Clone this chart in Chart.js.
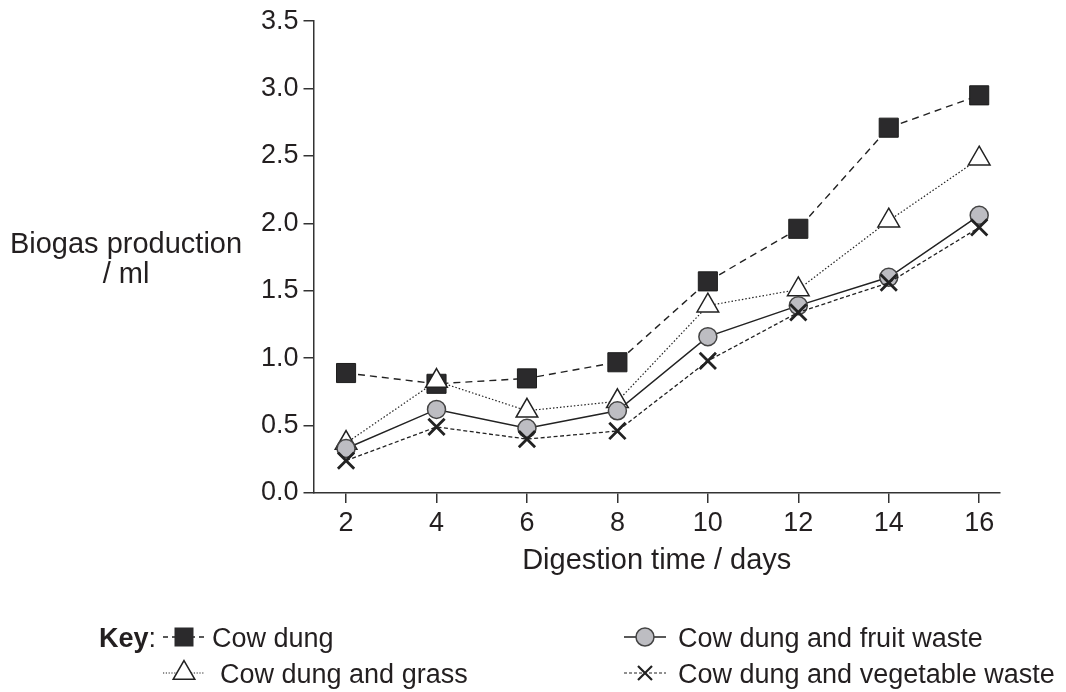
<!DOCTYPE html>
<html>
<head>
<meta charset="utf-8">
<script src="https://cdn.jsdelivr.net/npm/chart.js@4/dist/chart.umd.min.js"></script>
<style>
  html, body { margin: 0; padding: 0; background: #ffffff; }
  #wrap { width: 1066px; height: 692px; position: relative; }
</style>
</head>
<body>
<div id="wrap"><canvas id="c" width="1066" height="692"></canvas></div>
<script>
// ---- data ----
const days = [2, 4, 6, 8, 10, 12, 14, 16];
const cowDung = [0.89, 0.81, 0.85, 0.97, 1.57, 1.96, 2.71, 2.95];
const cowDungGrass = [0.37, 0.83, 0.61, 0.68, 1.39, 1.51, 2.02, 2.48];
const cowDungFruit = [0.33, 0.62, 0.48, 0.61, 1.16, 1.39, 1.60, 2.06];
const cowDungVeg = [0.24, 0.49, 0.40, 0.46, 0.98, 1.34, 1.56, 1.97];
const yTicks = [0, 0.5, 1.0, 1.5, 2.0, 2.5, 3.0, 3.5];
const seriesNames = ['Cow dung', 'Cow dung and grass', 'Cow dung and fruit waste', 'Cow dung and vegetable waste'];
const xTitle = 'Digestion time / days';
const yTitleLines = ['Biogas production', '/ ml'];

const FONT = '"Liberation Sans", Arial, Helvetica, sans-serif';
const INK = '#231f20';

function pts(vals) { return days.map((d, i) => ({ x: d, y: vals[i] })); }

const styles = [
  { pointStyle: 'rect', pointRadius: 13.5, pointBackgroundColor: '#2b2a2c', pointBorderColor: '#1e1e1e', pointBorderWidth: 1, borderDash: [7, 5], borderWidth: 1.4, order: 4 },
  { pointStyle: 'triangle', pointRadius: 12.5, pointBackgroundColor: '#ffffff', pointBorderColor: '#222', pointBorderWidth: 1.5, borderDash: [1.5, 2], borderWidth: 1.2, order: 3 },
  { pointStyle: 'circle', pointRadius: 9, pointBackgroundColor: '#bdbdc2', pointBorderColor: '#444', pointBorderWidth: 1.5, borderDash: [], borderWidth: 1.5, order: 2 },
  { pointStyle: 'crossRot', pointRadius: 11.5, pointBackgroundColor: '#222', pointBorderColor: '#222', pointBorderWidth: 2.8, borderDash: [4, 2.5], borderWidth: 1.3, order: 1 }
];
const seriesData = [cowDung, cowDungGrass, cowDungFruit, cowDungVeg];

const datasets = seriesData.map((vals, i) => Object.assign({
  label: seriesNames[i],
  data: pts(vals),
  borderColor: '#222',
  backgroundColor: '#222',
  fill: false,
  tension: 0,
  pointHoverRadius: styles[i].pointRadius
}, styles[i]));

function drawMarker(ctx, kind, x, y) {
  ctx.save();
  ctx.setLineDash([]);
  if (kind === 0) {
    ctx.fillStyle = '#2b2a2c';
    ctx.fillRect(x - 9.5, y - 9.5, 19, 19);
  } else if (kind === 1) {
    const r = 12.5;
    ctx.beginPath();
    ctx.moveTo(x, y - r);
    ctx.lineTo(x + r * Math.sin(2 * Math.PI / 3), y + r / 2);
    ctx.lineTo(x - r * Math.sin(2 * Math.PI / 3), y + r / 2);
    ctx.closePath();
    ctx.fillStyle = '#fff'; ctx.fill();
    ctx.strokeStyle = '#222'; ctx.lineWidth = 1.5; ctx.stroke();
  } else if (kind === 2) {
    ctx.beginPath();
    ctx.arc(x, y, 9, 0, Math.PI * 2);
    ctx.fillStyle = '#bdbdc2'; ctx.fill();
    ctx.strokeStyle = '#444'; ctx.lineWidth = 1.5; ctx.stroke();
  } else {
    const o = 7;
    ctx.beginPath();
    ctx.moveTo(x - o, y - o); ctx.lineTo(x + o, y + o);
    ctx.moveTo(x + o, y - o); ctx.lineTo(x - o, y + o);
    ctx.strokeStyle = '#222'; ctx.lineWidth = 2.2; ctx.stroke();
  }
  ctx.restore();
}

const extras = {
  id: 'extras',
  afterDraw(chart) {
    const ctx = chart.ctx;
    ctx.save();
    // y-axis title, horizontal, left of the axis
    ctx.fillStyle = INK;
    ctx.font = '29px ' + FONT;
    ctx.textAlign = 'center';
    ctx.textBaseline = 'alphabetic';
    ctx.fillText(yTitleLines[0], 126, 253);
    ctx.fillText(yTitleLines[1], 126, 283);

    // key
    const rows = [647, 683];
    ctx.font = 'bold 27px ' + FONT;
    ctx.textAlign = 'left';
    const kw = ctx.measureText('Key').width;
    ctx.font = '27px ' + FONT;
    const cw = ctx.measureText(':').width;
    const keyRight = 156;
    ctx.font = 'bold 27px ' + FONT;
    ctx.fillText('Key', keyRight - cw - kw, rows[0]);
    ctx.font = '27px ' + FONT;
    ctx.fillText(':', keyRight - cw, rows[0]);

    const entries = [
      { kind: 0, cx: 184, row: 0, tx: 212, dash: [5, 4], lw: 1.3 },
      { kind: 1, cx: 184, row: 1, tx: 220, dash: [1.2, 1.6], lw: 1.1 },
      { kind: 2, cx: 645, row: 0, tx: 678, dash: [], lw: 1.4 },
      { kind: 3, cx: 645, row: 1, tx: 678, dash: [3, 2], lw: 1.2 }
    ];
    entries.forEach(e => {
      const y = rows[e.row] - 10;
      ctx.save();
      ctx.strokeStyle = '#222';
      ctx.lineWidth = e.lw;
      ctx.setLineDash(e.dash);
      ctx.beginPath();
      ctx.moveTo(e.cx - 21, y);
      ctx.lineTo(e.cx + 21, y);
      ctx.stroke();
      ctx.restore();
      drawMarker(ctx, e.kind, e.cx, y);
      ctx.fillStyle = INK;
      ctx.font = '27px ' + FONT;
      ctx.textAlign = 'left';
      ctx.fillText(seriesNames[e.kind], e.tx, rows[e.row]);
    });
    ctx.restore();
  }
};

new Chart(document.getElementById('c'), {
  type: 'line',
  data: { datasets },
  plugins: [extras],
  options: {
    responsive: false,
    animation: false,
    events: [],
    layout: { padding: { left: 243.5, right: 66, top: 21, bottom: 114 } },
    plugins: { legend: { display: false }, tooltip: { enabled: false } },
    scales: {
      x: {
        type: 'linear',
        min: 1.28,
        max: 16.46,
        afterBuildTicks(scale) { scale.ticks = days.map(v => ({ value: v })); },
        afterFit(scale) { scale.height = 85; },
        border: { display: true, color: '#333', width: 1.5 },
        grid: { display: true, drawOnChartArea: false, drawTicks: true, tickLength: 10, color: '#333', lineWidth: 1.5 },
        ticks: { color: INK, font: { family: FONT, size: 27 }, padding: 4, maxRotation: 0, autoSkip: false },
        title: { display: true, text: xTitle, color: INK, font: { family: FONT, size: 29 }, padding: { top: 0, bottom: 0 } }
      },
      y: {
        type: 'linear',
        min: 0,
        max: 3.5,
        afterBuildTicks(scale) { scale.ticks = yTicks.map(v => ({ value: v })); },
        afterFit(scale) { scale.width = 70; },
        border: { display: true, color: '#333', width: 1.5 },
        grid: { display: true, drawOnChartArea: false, drawTicks: true, tickLength: 10, color: '#333', lineWidth: 1.5 },
        ticks: { color: INK, font: { family: FONT, size: 27 }, padding: 5, callback: v => Number(v).toFixed(1) }
      }
    }
  }
});
</script>
</body>
</html>
